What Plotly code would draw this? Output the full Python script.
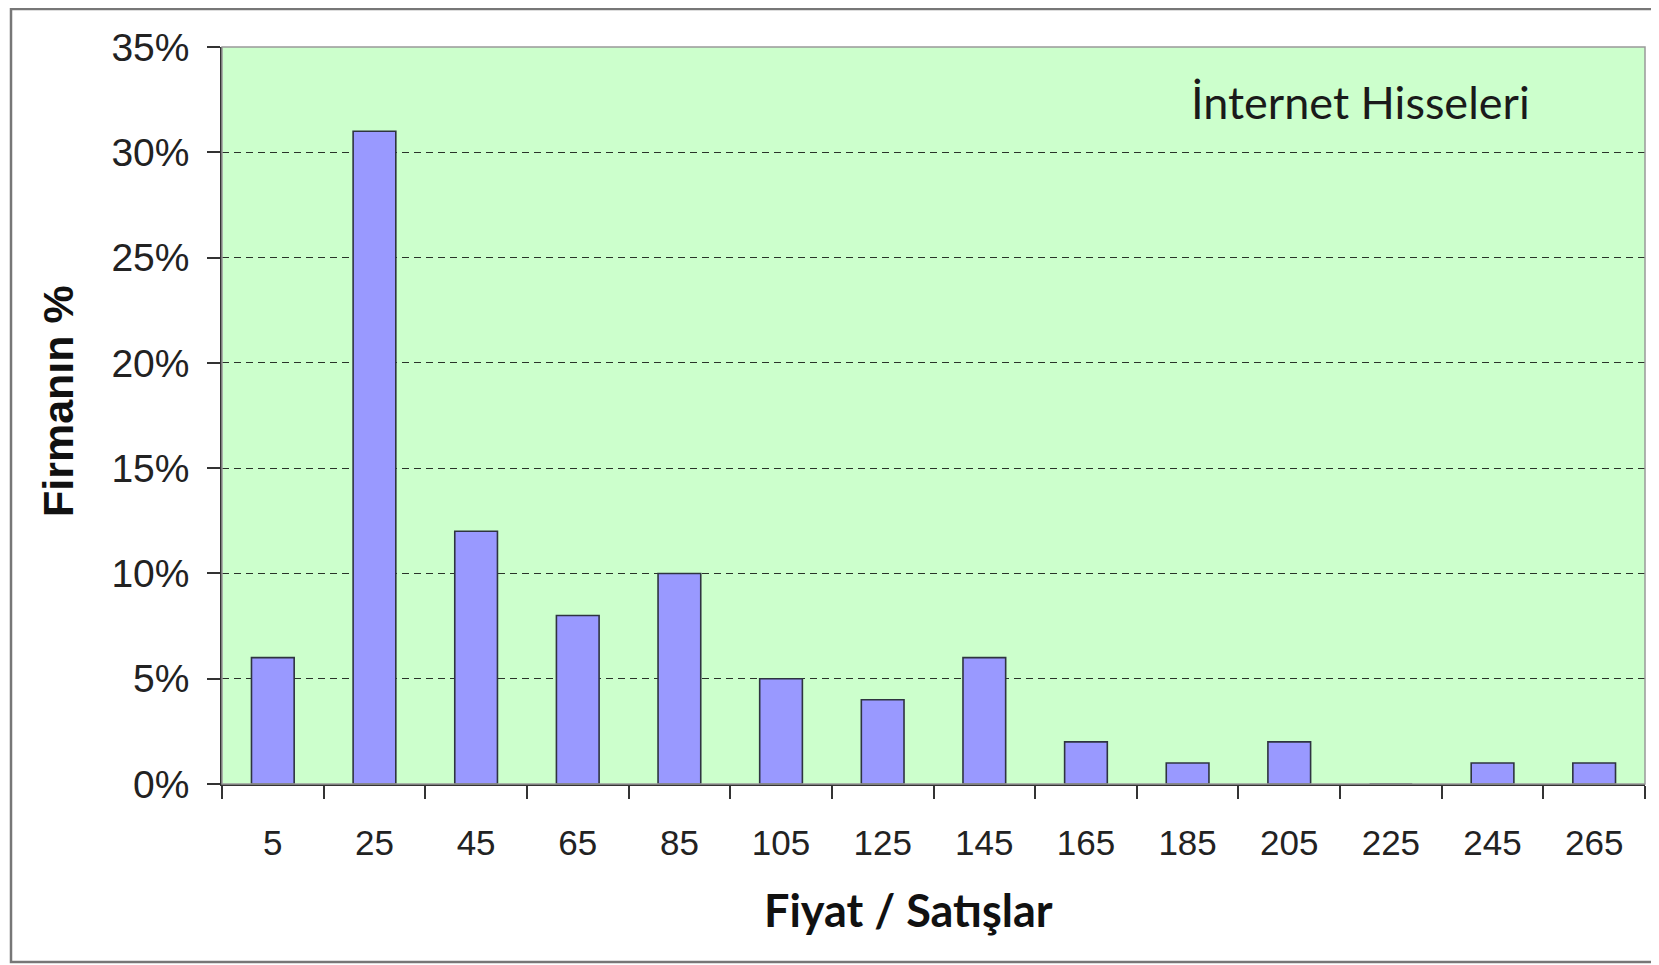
import plotly.graph_objects as go

categories = ["5", "25", "45", "65", "85", "105", "125", "145", "165", "185", "205", "225", "245", "265"]
values = [6, 31, 12, 8, 10, 5, 4, 6, 2, 1, 2, 0, 1, 1]
y_ticks = [0, 5, 10, 15, 20, 25, 30, 35]

# page body has an 8px margin; figure sized to fit the 1659x965 window
W, H = 1651, 957
OFF = 8
L, R, T, B = 214, 14, 39, 181
pw, ph = W - L - R, H - T - B

def px(x):  # screen x -> paper
    return (x - OFF - L) / pw

def py(y):  # screen y -> paper
    return (H - B - (y - OFF)) / ph

fig = go.Figure()
fig.add_trace(go.Bar(
    x=categories, y=values, width=0.42,
    marker=dict(color="#9999FF", line=dict(color="#2E3440", width=1.6)),
))

fig.update_layout(
    width=W, height=H,
    margin=dict(l=L, r=R, t=T, b=B),
    paper_bgcolor="white", plot_bgcolor="#CCFFCC",
    showlegend=False,
    font=dict(family="Liberation Sans, Arial", color="#222222"),
    xaxis=dict(
        type="category", tickson="boundaries", ticks="outside", ticklen=13,
        tickcolor="#333333", tickwidth=1.5, showline=True, linecolor="#333333", linewidth=1.5,
        tickfont=dict(size=35, color="#222222"), ticklabelstandoff=27,
        showgrid=False,
    ),
    yaxis=dict(
        range=[0, 35], tickvals=y_ticks, ticktext=[f"{v}%" for v in y_ticks],
        ticks="outside", ticklen=13, tickcolor="#333333", tickwidth=1.5,
        showline=True, linecolor="#333333", linewidth=1.5,
        tickfont=dict(size=39, color="#222222"), ticklabelstandoff=10,
        showgrid=True, gridcolor="#2a332a", gridwidth=1.4, griddash="7px,5px",
        zeroline=False,
    ),
    annotations=[
        dict(text="İnternet Hisseleri", xref="paper", yref="paper",
             x=px(1360), y=py(102), xanchor="center", yanchor="middle", showarrow=False,
             font=dict(family="Lato, Open Sans", size=45, color="#1a1a1a")),
        dict(text="<b>Fiyat / Satışlar</b>", xref="paper", yref="paper",
             x=px(908), y=py(910), xanchor="center", yanchor="middle", showarrow=False,
             font=dict(family="Lato, Open Sans", size=45, color="#111111")),
        dict(text="<b>Firmanın %</b>", xref="paper", yref="paper", textangle=-90,
             x=px(58), y=py(401), xanchor="center", yanchor="middle", showarrow=False,
             font=dict(family="Liberation Sans, Arial", size=43, color="#111111")),
    ],
    shapes=[
        dict(type="rect", xref="paper", yref="paper", x0=0, x1=1, y0=0, y1=1,
             line=dict(color="#999999", width=1.5), layer="above"),
        dict(type="rect", xref="paper", yref="paper", x0=px(11), x1=px(1680), y0=py(962), y1=py(9),
             line=dict(color="#777777", width=2.5)),
    ],
)

fig.write_html("out.html")
